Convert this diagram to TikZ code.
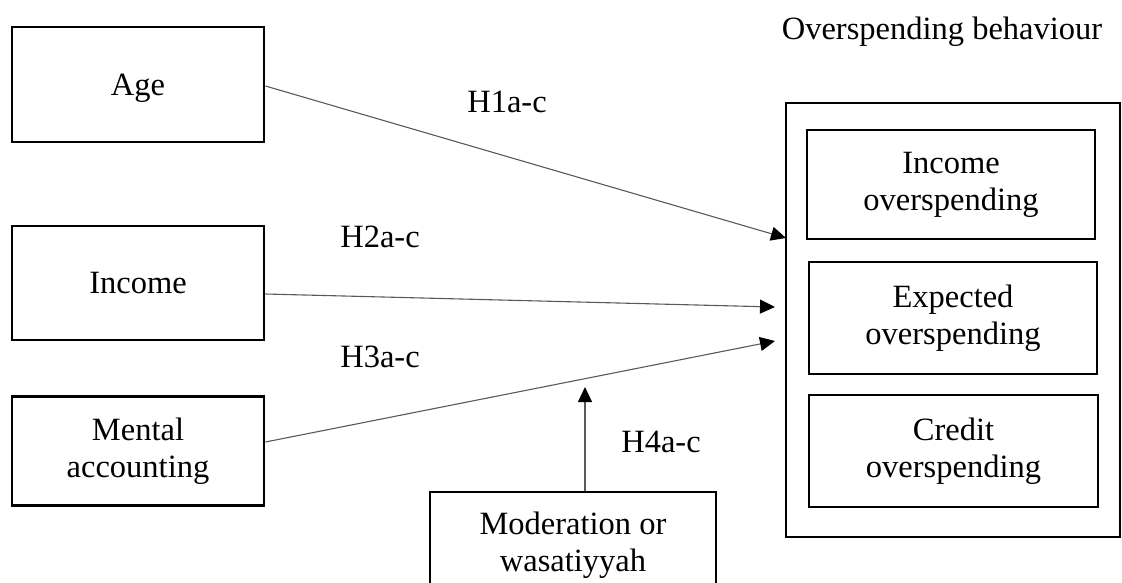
\documentclass[tikz,border=0pt]{standalone}
\usepackage{fontspec}
\setmainfont{Liberation Serif}
\usetikzlibrary{arrows.meta}
\begin{document}
\begin{tikzpicture}[x=1pt,y=-1pt,
  every node/.style={font=\fontsize{32.5}{37}\selectfont},
  box/.style={draw=black,line width=2.9pt,inner sep=0pt,align=center,
    minimum width=#1},
  box/.default=252pt,
  lbl/.style={anchor=base,inner sep=0pt},
  link/.style={draw=black!65,line width=1.1pt,
    -{Triangle[length=15pt,width=14pt,color=black]}}]
\useasboundingbox (0,0) rectangle (1122,582);
\begin{scope}
\clip (0,0) rectangle (1122,582);
\node[box,minimum height=115pt,text depth=0pt] (age) at (138,84.5) {Age};
\node[box,minimum height=114pt] (inc) at (138,283) {Income};
\node[box,minimum height=109pt] (men) at (138,451) {Mental\\accounting};
\node[box=286pt,minimum height=100pt,text depth=0pt] (mod) at (573,542) {Moderation or\\wasatiyyah};
\node[box=334pt,line width=2.4pt,minimum height=434pt] (outer) at (953,320) {};
\node[box=288pt,minimum height=109pt] (o1) at (951,184.5) {Income\\overspending};
\node[box=288pt,minimum height=112pt] (o2) at (953,318) {Expected\\overspending};
\node[box=289pt,minimum height=112pt] (o3) at (953.5,451) {Credit\\overspending};
\node[lbl] (title) at (942,39) {Overspending behaviour};
\node[lbl] (h1) at (507,112) {H1a-c};
\node[lbl] (h2) at (380,247) {H2a-c};
\node[lbl] (h3) at (380,367) {H3a-c};
\node[lbl] (h4) at (661,452) {H4a-c};
\coordinate (t1) at (786,238);
\coordinate (t2) at (775,307);
\coordinate (t3) at (775,341);
\coordinate (t4) at (585,387);
\draw[link] (age.east |- 0,86) -- (t1);
\draw[link] (inc.east |- 0,294) -- (t2);
\draw[link] (men.east |- 0,442) -- (t3);
\draw[link] (mod.north -| t4) -- (t4);
\end{scope}
\end{tikzpicture}
\end{document}
